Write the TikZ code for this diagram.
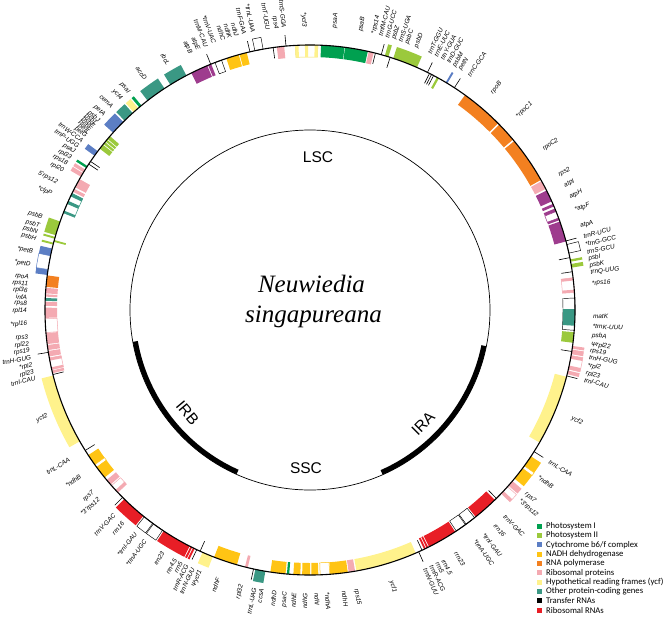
\documentclass[tikz,border=0pt]{standalone}
\usepackage{fontspec}
\setmainfont{Liberation Serif}
\setsansfont{Liberation Sans}
\newfontfamily\legfont{Carlito}
\definecolor{psI}{RGB}{0,160,80}
\definecolor{psII}{RGB}{155,201,60}
\definecolor{cyt}{RGB}{92,126,196}
\definecolor{nadh}{RGB}{255,196,20}
\definecolor{rnap}{RGB}{243,128,32}
\definecolor{ribo}{RGB}{244,170,178}
\definecolor{hyp}{RGB}{255,242,140}
\definecolor{hypline}{RGB}{240,222,100}
\definecolor{other}{RGB}{58,152,132}
\definecolor{trna}{RGB}{0,0,0}
\definecolor{rrna}{RGB}{232,30,38}
\definecolor{atps}{RGB}{158,60,142}

% box on the genome circle: from, to, side (+1 out, -1 in), style
\newcommand{\genebox}[4]{%
  \path[#4] ({90-(#1)}:265pt)
    arc[start angle={90-(#1)}, end angle={90-(#2)}, radius=265pt]
    -- ({90-(#2)}:{265pt+12pt*(#3)})
    arc[start angle={90-(#2)}, end angle={90-(#1)}, radius={265pt+12pt*(#3)}]
    -- cycle;}
% same gene in both inverted repeats
\newcommand{\irbox}[4]{\genebox{#1}{#2}{#3}{#4}\genebox{360.3-(#2)}{360.3-(#1)}{-(#3)}{#4}}
\newcommand{\trnmark}[2]{\draw[trn] ({90-(#1)}:265pt) -- ({90-(#1)}:{265pt+11pt*(#2)});}
\newcommand{\irtrn}[2]{\trnmark{#1}{#2}\trnmark{360.3-(#1)}{-(#2)}}

\begin{document}
\begin{tikzpicture}[
   lab/.style={font=\fontsize{6.4}{7}\sffamily\itshape, inner sep=0pt},
   reg/.style={font=\fontsize{15.5}{17}\sffamily, inner sep=0pt},
   legsq/.style={minimum width=4.5pt, minimum height=5pt, inner sep=0pt},
   legtx/.style={font=\fontsize{8.7}{9}\legfont, inner sep=0pt, anchor=west},
   trn/.style={line width=0.6pt, black},
   psa/.style={fill=psI}, psb/.style={fill=psII}, pet/.style={fill=cyt},
   ndh/.style={fill=nadh}, rpo/.style={fill=rnap}, rib/.style={fill=ribo},
   ycf/.style={fill=hyp}, oth/.style={fill=other}, rrn/.style={fill=rrna},
   atp/.style={fill=atps},
   ribx/.style={draw=ribo, fill=white, line width=0.5pt},
   petx/.style={draw=cyt, fill=white, line width=0.5pt},
   othx/.style={draw=other, fill=white, line width=0.5pt},
   atpx/.style={draw=atps, fill=white, line width=0.5pt},
   ndhx/.style={draw=nadh, fill=white, line width=0.5pt},
   ycfx/.style={draw=hypline, fill=white, line width=0.5pt},
   trnx/.style={draw=black, fill=white, line width=0.45pt}
  ]
  \useasboundingbox (-310pt,-320pt) rectangle (358pt,310pt);

  % genes outside the circle
  \foreach \a/\b/\c in {328.2/332.2/oth, 322.2/326.7/oth, 319.9/320.5/psa, 318.3/319.6/ycf,
      315.6/318.0/oth, 312.0/315.2/pet, 305.6/306.8/pet, 302.4/302.9/psa, 301.3/302.0/rib,
      300.2/301.1/rib, 286.4/289.5/psb, 285.6/286.0/psb, 284.3/284.7/psb, 277.6/278.8/pet,
      278.8/281.8/petx, 281.8/283.4/pet, 348.0/349.8/trnx, 16.4/17.2/psb, 18.3/23.8/psb,
      30.8/31.2/pet, 75.7/77.6/trnx, 79.0/79.5/psb, 80.0/80.8/psb, 97.8/98.4/rib,
      98.6/99.6/rib, 99.9/102.9/ribx, 99.9/100.6/rib, 102.1/102.9/rib, 103.2/104.0/rib,
      189.7/191.9/oth, 201.5/203.9/ycf} {
    \genebox{\a}{\b}{1}{\c}
  }
  % genes inside the circle
  \foreach \a/\b/\c in {333.4/337.2/atp, 337.4/338.1/atp, 339.0/340.5/trnx, 341.6/344.4/ndh,
      344.6/346.2/ndh, 352.8/354.4/rib, 356.8/361.7/ycfx, 356.8/357.5/ycf, 358.9/359.6/ycf,
      361.0/361.7/ycf, 2.4/7.5/psa, 7.6/12.6/psa, 12.8/13.9/rib, 28.6/29.1/psb,
      35.8/45.2/rpo, 45.6/50.0/rpo, 50.4/60.6/rpo, 60.9/62.8/rib, 63.2/65.8/atp,
      66.4/67.0/atp, 67.5/68.2/atp, 68.2/69.7/atpx, 69.7/70.2/atp, 70.5/75.0/atp,
      83.0/86.2/ribx, 83.0/83.6/rib, 85.6/86.2/rib, 87.4/94.4/trnx, 89.8/93.4/oth,
      94.8/97.1/psb, 156.5/169.9/ycf, 170.2/171.6/rib, 171.8/175.6/ndh, 175.7/177.8/ndhx,
      178.2/179.7/ndh, 180.0/181.7/ndh, 182.1/183.6/ndh, 184.5/185.0/psa, 185.3/188.6/ndh,
      193.6/194.2/rib, 196.0/201.2/ndh, 256.2/256.8/rib, 257.0/259.6/ribx, 259.0/259.6/rib,
      257.0/257.5/rib, 259.9/261.1/rib, 261.3/262.4/rib, 262.6/265.0/rib, 265.1/268.1/ribx,
      268.3/270.5/rib, 270.9/271.8/rib, 272.0/272.6/oth, 272.9/273.4/rib, 273.6/274.8/rib,
      275.0/277.5/rpo, 284.9/285.3/psb, 291.5/296.1/othx, 291.5/292.0/oth, 293.6/294.3/oth,
      295.4/296.1/oth, 296.5/297.2/rib, 297.6/299.6/rib, 307.5/308.6/psb, 308.8/309.3/psb,
      309.5/310.0/psb, 310.2/311.0/psb} {
    \genebox{\a}{\b}{-1}{\c}
  }
  % inverted repeats (IRA given, IRB mirrored)
  \foreach \a/\b/\s/\c in {104.6/120.0/-1/ycf, 123.5/126.0/1/ndh, 126.0/126.7/1/ndhx,
      126.7/129.5/1/ndh, 130.2/131.5/1/rib, 131.8/133.8/1/ribx, 133.1/133.8/1/rib,
      135.8/141.3/-1/rrn, 141.6/143.9/-1/trnx, 144.1/146.5/-1/trnx, 146.8/153.3/-1/rrn,
      153.5/153.9/-1/rrn, 154.1/154.5/-1/rrn} {
    \irbox{\a}{\b}{\s}{\c}
  }

  % genome circle and IR/SC circle
  \draw[line width=1.1pt] (0,0) circle[radius=265pt];
  \draw[line width=0.7pt] (0,0) circle[radius=180pt];
  \draw[line width=5pt] ({90-101.6}:177.5pt) arc[start angle={90-101.6}, end angle={90-156.2}, radius=177.5pt];
  \draw[line width=5pt] ({90-204.1}:177.5pt) arc[start angle={90-204.1}, end angle={90-259.8}, radius=177.5pt];

  % transfer RNAs
  \foreach \a in {338.0, 346.9, 354.8, 15.6, 26.3, 33.0, 74.9, 192.3, 104.4, 260.8} {\trnmark{\a}{1}}
  \foreach \a in {352.0, 14.3, 17.6, 26.8, 27.3, 27.8, 78.6, 81.7, 99.0, 303.4, 304.1, 255.9} {\trnmark{\a}{-1}}
  \foreach \a/\s in {122.3/1, 135.3/-1, 155.0/-1, 155.8/1} {\irtrn{\a}{\s}}

  % gene names, right half
  \foreach \t/\a [count=\i] in {psaA/5.0, psaB/10.3, *rps14/13.0, trnfM-CAU/14.4, trnG-UCC/15.8,
      psbZ/17.2, trnS-UGA/18.6, psbC/20.0, psbD/22.0, trnT-GGU/25.0, trnE-UUC/26.4,
      trnY-GUA/27.8, trnD-GUC/29.2, psbM/30.6, petN/32.0, trnC-GCA/34.2, rpoB/40.0,
      *rpoC1/47.0, rpoC2/55.5, rps2/61.5, atpI/64.0, atpH/66.5, *atpF/69.4, atpA/72.8,
      trnR-UCU/75.0, *trnG-GCC/76.6, trnS-GCU/78.2, psbI/79.6, psbK/81.0, trnQ-UUG/82.4,
      *rps16/84.7, matK/91.2, *trnK-UUU/93.3, psbA/95.2, Ψrpl22/97.0, rps19/98.3,
      trnH-GUG/99.6, *rpl2/101.3, rpl23/102.9, trnI-CAU/104.3, ycf2/112.5, trnL-CAA/122.3,
      *ndhB/126.1, rps7/130.4, *3'rps12/132.2, trnV-GAC/136.6, rrn16/139.3, *trnI-GAU/142.2,
      *trnA-UGC/144.4, rrn23/149.0, rrn4.5/152.0, rrn5/153.3, trnR-ACG/154.6, trnN-GUU/156.0,
      ycf1/163.3, rps15/170.6, ndhH/173.1, *ndhA/176.5, ndhI/178.6} {
    \node[lab, anchor=west, rotate=90-\a] (r\i) at ({90-\a}:283pt) {\t};
  }
  % gene names, left half
  \foreach \t/\a [count=\i] in {ndhG/181.0, ndhE/183.2, psaC/185.0, ndhD/187.2, ccsA/189.8,
      trnL-UAG/191.3, rpl32/194.0, ndhF/198.9, Ψycf1/202.8, trnN-GUU/204.4, trnR-ACG/205.8,
      rrn5/207.1, rrn4.5/208.4, rrn23/211.3, *trnA-UGC/215.6, *trnI-GAU/218.0, rrn16/221.3,
      trnV-GAC/223.7, *3'rps12/228.1, rps7/229.9, *ndhB/234.2, trnL-CAA/238.2, ycf2/248.0,
      trnI-CAU/256.0, rpl23/257.3, *rpl2/258.7, trnH-GUG/260.3, rps19/261.7, rpl22/263.1,
      rps3/264.5, *rpl16/267.2, rpl14/269.8, rps8/271.3, infA/272.6, rpl36/273.9,
      rps11/275.2, rpoA/276.6, *petD/279.2, *petB/281.8, psbH/284.6, psbN/285.9, psbT/287.2,
      psbB/289.0, *clpP/294.2, 5'rps12/296.8, rpl20/299.4, rps18/301.0, rpl33/302.4,
      psaJ/303.8, trnP-UGG/305.2, trnW-CCA/306.6, petG/307.8, petL/308.6, psbE/309.4,
      psbF/310.2, psbL/311.0, psbJ/311.8, petA/313.4, cemA/315.7, ycf4/318.2, psaI/320.2,
      accD/324.5, rbcL/330.0, atpB/335.0, atpE/336.7, trnM-CAU/338.5, *trnV-UAC/340.2,
      ndhC/342.2, ndhK/343.6, ndhJ/345.0, trnF-GAA/346.6, *trnL-UAA/348.4, trnT-UGU/351.4,
      rps4/353.1, trnS-GGA/354.7, *ycf3/358.8} {
    \node[lab, anchor=east, rotate=270-\a] (l\i) at ({90-\a}:283pt) {\t};
  }

  % regions and species
  \node[reg] (lsc) at (8pt,153pt) {LSC};
  \node[reg] (ssc) at (-4pt,-158pt) {SSC};
  \node[reg, rotate=-50] (irb) at (-140:160pt) {IRB};
  \node[reg, rotate=45] (ira) at (-45:160pt) {IRA};
  \node[font=\fontsize{25}{30}\selectfont\itshape, anchor=base, inner sep=0pt] (genus) at (1.5pt,18pt) {Neuwiedia};
  \node[font=\fontsize{25}{30}\selectfont\itshape, anchor=base, inner sep=0pt] (species) at ([xshift=2pt, yshift=-30pt]genus.base) {singapureana};

  % legend
  \foreach \c/\t [count=\i] in {psI/Photosystem I, psII/Photosystem II, cyt/{Cytochrome b6/f complex},
      nadh/NADH dehydrogenase, rnap/RNA polymerase, ribo/Ribosomal proteins,
      hyp/{Hypothetical reading frames (ycf)}, other/Other protein-coding genes,
      trna/Transfer RNAs, rrna/Ribosomal RNAs} {
    \node[legsq, fill=\c] (k\i) at (229.5pt, {-216pt-9.35pt*(\i-1)}) {};
    \node[legtx] (t\i) at ([xshift=4pt]k\i.east) {\t};
  }
\end{tikzpicture}
\end{document}
